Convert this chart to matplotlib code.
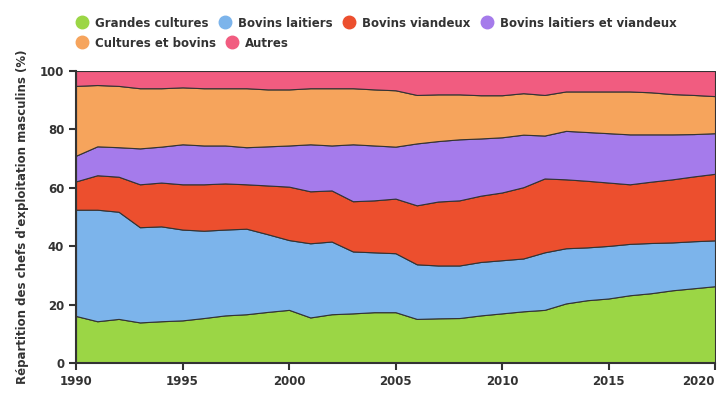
import numpy as np
import matplotlib
matplotlib.use("Agg")
import matplotlib.pyplot as plt
from matplotlib.lines import Line2D

# data (share in %)
years = list(range(1990, 2021))
grandes_cultures = [16.1, 14.3, 15.1, 13.9, 14.3, 14.6, 15.4, 16.3, 16.7, 17.5, 18.2, 15.6, 16.7, 17.0, 17.4, 17.4,
                    15.1, 15.3, 15.4, 16.3, 17.0, 17.7, 18.2, 20.4, 21.5, 22.1, 23.2, 23.9, 24.9, 25.6, 26.3]
bovins_laitiers = [36.4, 38.2, 36.7, 32.6, 32.5, 31.1, 29.9, 29.4, 29.3, 26.6, 23.9, 25.4, 24.9, 21.2, 20.5, 20.2,
                   18.7, 18.1, 18.0, 18.3, 18.2, 18.1, 19.7, 18.9, 18.1, 18.0, 17.6, 17.2, 16.4, 16.1, 15.7]
bovins_viandeux = [9.7, 11.8, 12.0, 14.7, 15.0, 15.5, 15.9, 15.8, 15.2, 16.7, 18.3, 17.8, 17.5, 17.2, 17.8, 18.7,
                   20.2, 21.9, 22.3, 22.7, 23.2, 24.4, 25.3, 23.6, 22.8, 21.7, 20.4, 21.0, 21.6, 22.2, 22.8]
bovins_mixtes = [8.8, 9.9, 10.1, 12.3, 12.3, 13.7, 13.3, 13.0, 12.7, 13.4, 14.1, 16.1, 15.4, 19.5, 18.8, 17.8,
                 21.2, 20.7, 20.9, 19.6, 18.9, 18.0, 14.7, 16.6, 16.7, 16.9, 17.1, 16.2, 15.4, 14.5, 13.9]
cultures_bovins = [23.9, 21.0, 21.0, 20.6, 20.0, 19.5, 19.6, 19.6, 20.2, 19.5, 19.2, 19.2, 19.6, 19.2, 19.2, 19.3,
                   16.6, 16.0, 15.4, 14.8, 14.4, 14.2, 13.9, 13.5, 13.9, 14.3, 14.7, 14.4, 13.8, 13.4, 12.7]
autres = [5.1, 4.8, 5.1, 5.9, 5.9, 5.6, 5.9, 5.9, 5.9, 6.3, 6.3, 5.9, 5.9, 5.9, 6.3, 6.6,
          8.2, 8.0, 8.0, 8.3, 8.3, 7.6, 8.2, 7.0, 7.0, 7.0, 7.0, 7.3, 7.9, 8.2, 8.6]

labels = ["Grandes cultures", "Bovins laitiers", "Bovins viandeux",
          "Bovins laitiers et viandeux", "Cultures et bovins", "Autres"]
colors = ["#9bd645", "#7cb4eb", "#ec4f2e", "#a57beb", "#f6a45c", "#f15c80"]
series = [grandes_cultures, bovins_laitiers, bovins_viandeux, bovins_mixtes, cultures_bovins, autres]

txt = "#333333"
fig = plt.figure(figsize=(7.25, 4), dpi=100)
ax = fig.add_axes([76/725, 37/400, 639/725, 292/400])

ax.stackplot(years, *series, colors=colors, edgecolor="#333333", linewidth=0.8)

ax.set_xlim(1990, 2020)
ax.set_ylim(0, 100)
ax.set_xticks([1990, 1995, 2000, 2005, 2010, 2015, 2020])
ax.set_yticks([0, 20, 40, 60, 80, 100])
for s in ["top", "right"]:
    ax.spines[s].set_visible(False)
for s in ["left", "bottom"]:
    ax.spines[s].set_color("#333333")
    ax.spines[s].set_linewidth(1.5)
ax.tick_params(colors=txt, length=5, width=1.5, labelsize=8.5)
for lab in ax.get_xticklabels() + ax.get_yticklabels():
    lab.set_fontweight("bold")
ax.get_xticklabels()[-1].set_horizontalalignment("right")
ax.set_ylabel("Répartition des chefs d'exploitation masculins (%)", fontsize=8.5,
              fontweight="bold", color=txt, labelpad=8)

# legend in two rows, like the original
handles = [Line2D([], [], marker="o", linestyle="", markersize=9, color=c) for c in colors]
fig.legend(handles[:4], labels[:4], loc="upper left", bbox_to_anchor=(0.082, 0.985), ncol=4,
           frameon=False, handletextpad=0.1, columnspacing=0.4,
           prop={"weight": "bold", "size": 8.5}, labelcolor=txt)
fig.legend(handles[4:], labels[4:], loc="upper left", bbox_to_anchor=(0.082, 0.935), ncol=2,
           frameon=False, handletextpad=0.1, columnspacing=0.4,
           prop={"weight": "bold", "size": 8.5}, labelcolor=txt)

fig.savefig("out.png", dpi=100)
